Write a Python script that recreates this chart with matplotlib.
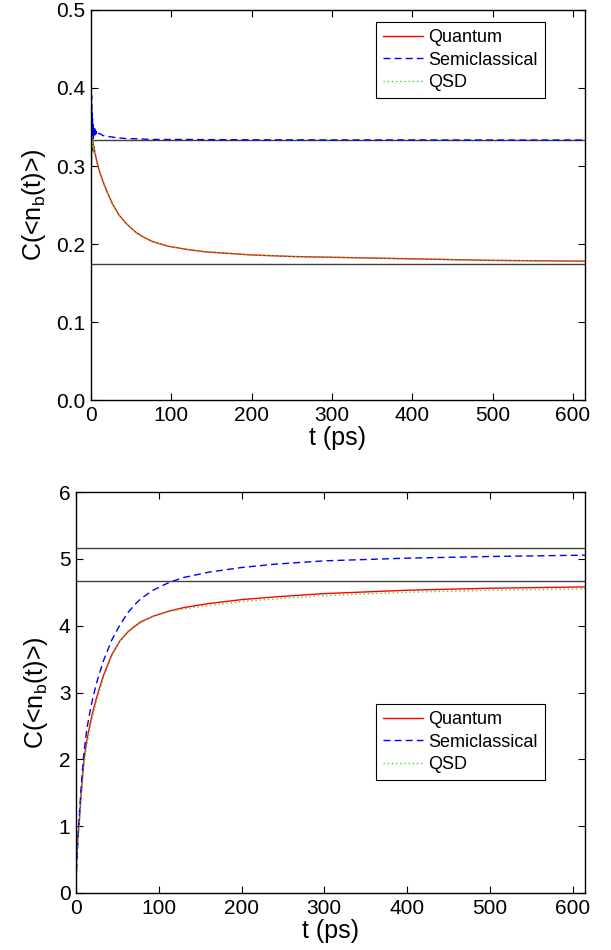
import matplotlib
matplotlib.use("Agg")
import matplotlib.pyplot as plt

plt.rcParams["font.family"] = ["Liberation Sans", "DejaVu Sans"]

# ---- top panel data ----
t_top = [0, 0.2, 0.5, 0.8, 1.1, 1.4, 1.7, 2.0, 2.4, 2.8, 3.2, 3.6, 4.0, 4.5, 5,
         5.5, 6, 7, 8, 10, 15, 20, 27, 35, 45, 56, 65, 77, 97, 120, 142, 200,
         250, 300, 400, 500, 615]
quantum_top = [0, 0.37, 0.31, 0.35, 0.32, 0.34, 0.325, 0.335, 0.325, 0.33, 0.322,
               0.325, 0.318, 0.32, 0.315, 0.314, 0.312, 0.307, 0.303, 0.295, 0.280,
               0.267, 0.251, 0.237, 0.225, 0.215, 0.209, 0.203, 0.197, 0.193, 0.190,
               0.186, 0.184, 0.183, 0.181, 0.179, 0.178]
semi_top = [0, 0.42, 0.30, 0.39, 0.32, 0.37, 0.33, 0.36, 0.335, 0.355, 0.338, 0.35,
            0.34, 0.348, 0.34, 0.346, 0.341, 0.344, 0.340, 0.342, 0.339, 0.338,
            0.337, 0.336, 0.335, 0.335, 0.3345, 0.334, 0.334, 0.334, 0.3338, 0.3336,
            0.3335, 0.3334, 0.3334, 0.3333, 0.3333]
qsd_top = [0, 0.36, 0.32, 0.34, 0.325, 0.335, 0.322, 0.332, 0.322, 0.328, 0.32,
           0.324, 0.317, 0.319, 0.314, 0.313, 0.311, 0.306, 0.302, 0.294, 0.279,
           0.266, 0.250, 0.237, 0.225, 0.215, 0.209, 0.203, 0.197, 0.193, 0.190,
           0.186, 0.184, 0.183, 0.181, 0.179, 0.178]
ref_top = [0.3333, 0.175]
ref_top_start = [4, 0]

# ---- bottom panel data ----
t_bot = [0, 0.5, 1, 2, 3.2, 3.6, 6, 9.6, 13, 17, 20, 25, 33, 43, 53, 63, 73, 79,
         93, 113, 130, 160, 200, 240, 300, 400, 500, 615]
quantum_bot = [0, 0.45, 0.6, 0.8, 0.97, 1.0, 1.45, 2.0, 2.28, 2.53, 2.70, 2.93, 3.25,
               3.56, 3.77, 3.91, 4.01, 4.06, 4.14, 4.22, 4.27, 4.33, 4.39, 4.43,
               4.48, 4.53, 4.56, 4.58]
semi_bot = [0, 0.3, 0.45, 0.7, 1.0, 1.08, 1.55, 2.1, 2.45, 2.72, 2.90, 3.15, 3.47,
            3.78, 4.01, 4.20, 4.34, 4.41, 4.53, 4.65, 4.72, 4.80, 4.87, 4.92,
            4.97, 5.01, 5.035, 5.055]
qsd_bot = [0, 0.4, 0.55, 0.75, 0.92, 0.95, 1.38, 1.92, 2.2, 2.46, 2.64, 2.88, 3.21,
           3.54, 3.77, 3.92, 4.02, 4.07, 4.14, 4.21, 4.25, 4.30, 4.36, 4.40,
           4.45, 4.50, 4.53, 4.55]
ref_bot = [5.157, 4.672]

t_max = 615
labels = ["Quantum", "Semiclassical", "QSD"]


def style_axes(ax, ylim, yticks):
    ax.set_xlim(0, t_max)
    ax.set_ylim(*ylim)
    ax.set_xticks(range(0, 700, 100))
    ax.set_yticks(yticks)
    ax.tick_params(direction="in", top=True, right=True, labelsize=15, length=5,
                   width=0.8, pad=4)
    for s in ax.spines.values():
        s.set_linewidth(1.0)
    ax.set_xlabel("t (ps)", fontsize=18, labelpad=1)
    ax.set_ylabel(r"C(<n$_\mathregular{b}$(t)>)", fontsize=18, labelpad=6)


def draw_legend(ax, anchor):
    h, l = ax.get_legend_handles_labels()
    leg = ax.legend(h[-3:], l[-3:], loc="upper right", bbox_to_anchor=anchor,
                    borderaxespad=0, fontsize=13, fancybox=False, edgecolor="black",
                    framealpha=1, handlelength=2.2, handletextpad=0.3,
                    labelspacing=0.3, borderpad=0.4)
    leg.get_frame().set_linewidth(0.8)


fig = plt.figure(figsize=(6.11, 9.5), dpi=100)

ax1 = fig.add_axes([0.1489, 0.5789, 0.8085, 0.4106])
for v, t0 in zip(ref_top, ref_top_start):
    ax1.plot([t0, t_max], [v, v], color="#404040", linewidth=1.0)
ax1.plot(t_top, quantum_top, color="red", linewidth=1.0, label=labels[0])
ax1.plot(t_top, semi_top, color="blue", linewidth=1.0, linestyle=(0, (5, 3)),
         label=labels[1])
ax1.plot(t_top, qsd_top, color="#33dd33", linewidth=1.0, linestyle=(0, (1, 2)),
         label=labels[2])
style_axes(ax1, (0, 0.5), [0, 0.1, 0.2, 0.3, 0.4, 0.5])
draw_legend(ax1, (0.919, 0.969))

ax2 = fig.add_axes([0.1244, 0.06, 0.833, 0.4221])
for v in ref_bot:
    ax2.plot([0, t_max], [v, v], color="#404040", linewidth=1.0)
ax2.plot(t_bot, quantum_bot, color="red", linewidth=1.0, label=labels[0])
ax2.plot(t_bot, semi_bot, color="blue", linewidth=1.0, linestyle=(0, (5, 3)),
         label=labels[1])
ax2.plot(t_bot, qsd_bot, color="#33dd33", linewidth=1.0, linestyle=(0, (1, 2)),
         label=labels[2])
style_axes(ax2, (0, 6), range(0, 7))
draw_legend(ax2, (0.921, 0.471))

fig.savefig("out.png", dpi=100)
